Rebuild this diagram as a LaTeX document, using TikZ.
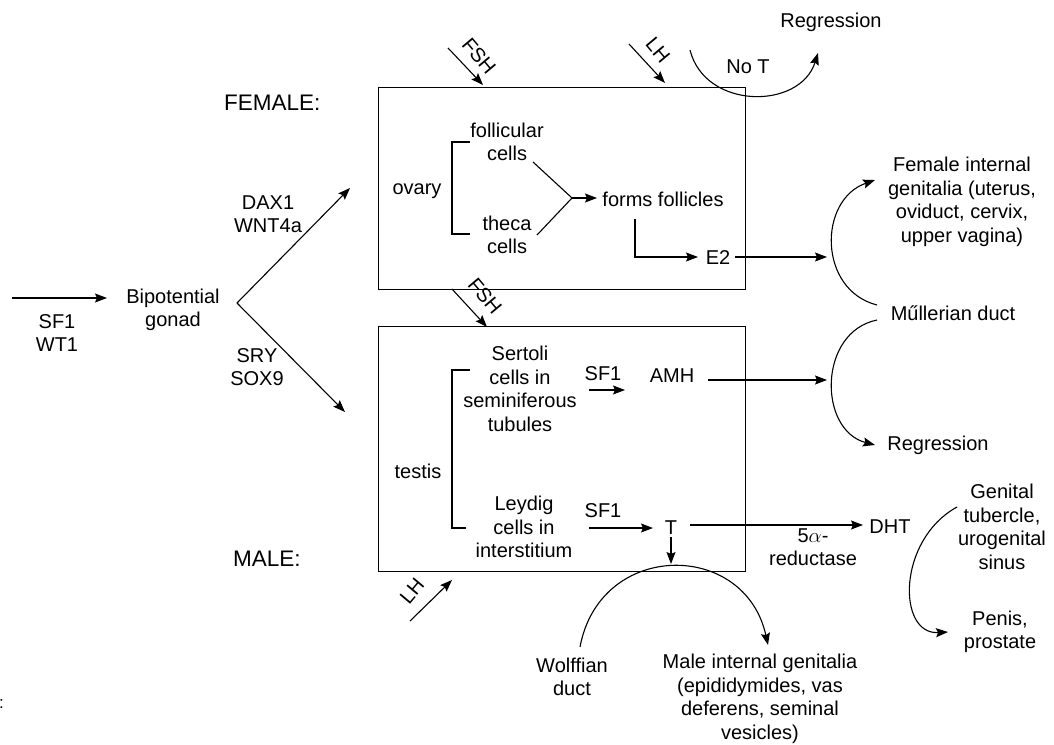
\documentclass[tikz,border=0pt]{standalone}
\usepackage{fontspec}
\setmainfont{Liberation Sans}
\usetikzlibrary{arrows.meta}
\begin{document}
\begin{tikzpicture}[x=1pt,y=-1pt,
  lbl/.style={inner sep=0pt, align=center, font=\fontsize{20}{23.5}\selectfont},
  big/.style={inner sep=0pt, anchor=west, font=\fontsize{22.5}{26}\selectfont},
  gbox/.style={draw, line width=1.2pt, inner sep=0pt, anchor=north west},
  ln/.style={line width=1.1pt},
  arr/.style={ln, -{Stealth[length=12pt,width=9pt,inset=2pt]}},
]
\useasboundingbox (0,0) rectangle (1054,744);

% boxes
\node[gbox, minimum width=367pt, minimum height=202pt] (fbox) at (378,87) {};
\node[gbox, minimum width=367pt, minimum height=245pt] (mbox) at (378,326) {};

% left part
\coordinate (sfs) at (12,298);
\coordinate (sfe) at (107,298);
\node[lbl] (sfwt) at (57,333) {SF1\\WT1};
\node[lbl] (bip) at (173,310) {Bipotential\\gonad};
\coordinate (v) at (237,303);
\coordinate (vf) at (350,188);
\coordinate (vm) at (345,412);
\node[lbl] (dax) at (268,214) {DAX1\\WNT4a};
\node[lbl] (sry) at (257,367) {SRY\\SOX9};
\node[big] (female) at (224,103) {FEMALE:};
\node[big] (male) at (233,559) {MALE:};
\node[inner sep=0pt, font=\fontsize{17}{20}\selectfont] (colon) at (1.5,704) {:};

\draw[arr] (sfs) -- (sfe);
\draw[arr] (v) -- (vf);
\draw[arr] (v) -- (vm);

% hormones in
\coordinate (fsh1s) at (448,48);  \coordinate (fsh1e) at (483,85);
\coordinate (lh1s) at (629,44);   \coordinate (lh1e) at (665,83);
\coordinate (fsh2s) at (452,289); \coordinate (fsh2e) at (487,327);
\coordinate (lh2s) at (410,621);  \coordinate (lh2e) at (452,580);
\draw[arr] (fsh1s) -- (fsh1e);
\draw[arr] (lh1s) -- (lh1e);
\draw[arr] (fsh2s) -- (fsh2e);
\draw[arr] (lh2s) -- (lh2e);
\node[lbl, rotate=-50] (fshA) at (479,56) {FSH};
\node[lbl, rotate=-50] (lhA) at (658,50) {LH};
\node[lbl, rotate=-50] (fshB) at (485,296) {FSH};
\node[lbl, rotate=50] (lhB) at (412,591) {LH};

% No T
\node[lbl] (regtop) at (831,22) {Regression};
\node[lbl] (noT) at (748,67) {No T};
\coordinate (nts) at (690,50);
\coordinate (nte) at (818,53);
\draw[arr] (nts) .. controls (705,110) and (800,110) .. (nte);

% ovary
\node[lbl] (ovary) at (417,191) {ovary};
\node[lbl] (foll) at (507,142) {follicular\\cells};
\node[lbl] (theca) at (507,235) {theca\\cells};
\draw[ln] (470,142) -- (452,142) -- (452,234) -- (470,234);
\coordinate (fa) at (533,162);
\coordinate (ta) at (537,235);
\coordinate (jn) at (572,198);
\coordinate (jne) at (597,198);
\draw[ln] (fa) -- (jn) -- (ta);
\draw[arr] (jn) -- (jne);
\node[lbl] (forms) at (663,199) {forms follicles};
\node[lbl] (e2) at (718,258) {E2};
\coordinate (el1) at (635,219);
\coordinate (el2) at (635,257);
\coordinate (el3) at (698,257);
\draw[arr] (el1) -- (el2) -- (el3);
\coordinate (e2s) at (735,257);
\coordinate (e2e) at (827,257);
\draw[arr] (e2s) -- (e2e);

% Mullerian
\node[lbl] (fig) at (962,202) {Female internal\\genitalia (uterus,\\oviduct, cervix,\\upper vagina)};
\node[lbl] (mul) at (953,313) {Műllerian duct};
\node[lbl] (reg) at (938,445) {Regression};
\coordinate (mu1) at (877,305);
\coordinate (mu1e) at (875,180);
\coordinate (mu2) at (877,320);
\coordinate (mu2e) at (875,445);
\draw[arr] (mu1) .. controls (818,290) and (818,200) .. (mu1e);
\draw[arr] (mu2) .. controls (818,332) and (818,430) .. (mu2e);

% testis
\node[lbl] (testis) at (418,471) {testis};
\node[lbl] (sert) at (520,389) {Sertoli\\cells in\\seminiferous\\tubules};
\node[lbl] (leyd) at (524,527) {Leydig\\cells in\\interstitium};
\draw[ln] (470,370) -- (452,370) -- (452,528) -- (466,528);
\node[lbl] (sfA) at (603,374) {SF1};
\node[lbl] (sfB) at (603,511) {SF1};
\coordinate (sa1) at (589,390); \coordinate (sa2) at (625,390);
\coordinate (sb1) at (589,528); \coordinate (sb2) at (653,528);
\draw[arr] (sa1) -- (sa2);
\draw[arr] (sb1) -- (sb2);
\node[lbl] (amh) at (672,376) {AMH};
\node[lbl] (T) at (671,528) {T};
\coordinate (amhs) at (708,380); \coordinate (amhe) at (827,380);
\draw[arr] (amhs) -- (amhe);
\coordinate (td1) at (671,537); \coordinate (td2) at (671,564);
\draw[arr] (td1) -- (td2);
\coordinate (th1) at (690,525); \coordinate (th2) at (863,525);
\draw[arr] (th1) -- (th2);
\node[lbl] (red) at (813,547) {5$\alpha$-\\reductase};
\node[lbl] (dht) at (890,527) {DHT};

% external male
\node[lbl] (gen) at (1002,527) {Genital\\tubercle,\\urogenital\\sinus};
\node[lbl] (pen) at (1000,632) {Penis,\\prostate};
\coordinate (g1) at (957,507); \coordinate (g2) at (948,632);
\draw[arr] (g1) .. controls (897,540) and (897,635) .. (g2);

% Wolffian
\node[lbl] (wolf) at (572,677) {Wolffian\\duct};
\node[lbl] (mig) at (760,699) {Male internal genitalia\\(epididymides, vas\\deferens, seminal\\vesicles)};
\coordinate (w1) at (580,647); \coordinate (w2) at (768,645);
\draw[arr] (w1) .. controls (600,540) and (745,540) .. (w2);
\end{tikzpicture}
\end{document}
